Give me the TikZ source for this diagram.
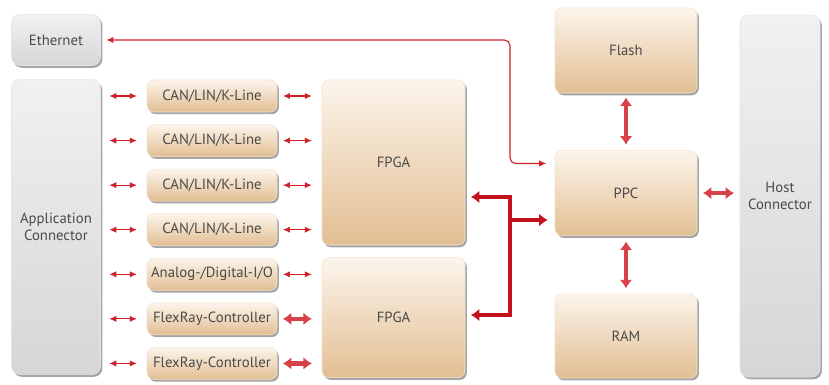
\documentclass[tikz,border=0pt]{standalone}
\usepackage{fontspec}
\setmainfont{PT Sans}
\usepackage{tikz}
\usetikzlibrary{arrows.meta,positioning,shadows}

\definecolor{boxtop}{HTML}{FCF5EC}
\definecolor{boxbot}{HTML}{E2BE92}
\definecolor{greytop}{HTML}{F1F1F3}
\definecolor{greybot}{HTML}{D6D6D9}
\definecolor{sigred}{HTML}{D0202A}
\definecolor{busred}{HTML}{C2121E}
\definecolor{txtgrey}{HTML}{4A4A4A}

\begin{document}
\begin{tikzpicture}[
  x=0.025cm, y=-0.025cm,
  every node/.style={font=\fontsize{10.5}{12.5}\selectfont, text=txtgrey},
  box/.style={draw=boxtop!70!boxbot, line width=0.4pt, rounded corners=5pt, align=center,
               top color=boxtop, bottom color=boxbot, inner sep=2pt,
               drop shadow={shadow xshift=1.3pt, shadow yshift=-1.6pt, opacity=.5, fill=black!70}},
  chip/.style={box, minimum width=3.25cm, minimum height=0.8cm},
  big/.style={box, minimum width=3.55cm, minimum height=2.125cm},
  gbox/.style={draw=greytop!60!greybot, line width=0.4pt, rounded corners=6pt, align=center,
               top color=greytop, bottom color=greybot, inner sep=2pt,
               drop shadow={shadow xshift=1.3pt, shadow yshift=-1.6pt, opacity=.5, fill=black!70}},
  sig/.style={{Latex[length=5pt,width=4.5pt]}-{Latex[length=5pt,width=4.5pt]}, sigred, line width=0.8pt},
  fat/.style={{Latex[length=6pt,width=9pt]}-{Latex[length=6pt,width=9pt]}, sigred!85, line width=3.2pt},
  bus/.style={busred, line width=3pt},
]
\useasboundingbox (0,0) rectangle (829,385);

\node[gbox, minimum width=2.225cm, minimum height=1.275cm] (eth) at (56,40) {Ethernet};
\node[gbox, minimum width=2.225cm, minimum height=7.375cm] (app) at (56,227) {Application\\Connector};

\node[chip] (can1) at (212,96) {CAN/LIN/K-Line};
\node[chip, below=3mm of can1] (can2) {CAN/LIN/K-Line};
\node[chip, below=3mm of can2] (can3) {CAN/LIN/K-Line};
\node[chip, below=3mm of can3] (can4) {CAN/LIN/K-Line};
\node[chip, below=3mm of can4] (aio)  {Analog-/Digital-I/O};
\node[chip, below=3mm of aio]  (flex1) {FlexRay-Controller};
\node[chip, below=3mm of flex1] (flex2) {FlexRay-Controller};

\node[box, minimum width=3.575cm, minimum height=4.125cm] (fpga1) at (393.5,162.5) {FPGA};
\node[box, minimum width=3.575cm, minimum height=3cm, below=3mm of fpga1] (fpga2) {FPGA};

\node[big] (flash) at (626,50.5) {Flash};
\node[big, below=1.425cm of flash] (ppc) {PPC};
\node[big, minimum height=2.1cm, below=1.45cm of ppc] (ram) {RAM};

\node[gbox, minimum width=2cm, minimum height=9.05cm] (host) at (780,196) {Host\\Connector};

\coordinate (bustop) at (510,197);
\coordinate (busmid) at (510,220);
\coordinate (busbot) at (510,315);

\draw[sig, shorten <=6pt, shorten >=7pt] (app.east |- can1) -- (can1.west);
\draw[sig, shorten <=6pt, shorten >=7pt] (app.east |- can2) -- (can2.west);
\draw[sig, shorten <=6pt, shorten >=7pt] (app.east |- can3) -- (can3.west);
\draw[sig, shorten <=6pt, shorten >=7pt] (app.east |- can4) -- (can4.west);
\draw[sig, shorten <=6pt, shorten >=7pt] (app.east |- aio) -- (aio.west);
\draw[sig, shorten <=6pt, shorten >=7pt] (app.east |- flex1) -- (flex1.west);
\draw[sig, shorten <=6pt, shorten >=7pt] (app.east |- flex2) -- (flex2.west);

\draw[sig, shorten <=4pt, shorten >=7pt] (can1.east) -- (can1 -| fpga1.west);
\draw[sig, shorten <=4pt, shorten >=7pt] (can2.east) -- (can2 -| fpga1.west);
\draw[sig, shorten <=4pt, shorten >=7pt] (can3.east) -- (can3 -| fpga1.west);
\draw[sig, shorten <=4pt, shorten >=7pt] (can4.east) -- (can4 -| fpga1.west);
\draw[sig, shorten <=4pt, shorten >=7pt] (aio.east) -- (aio -| fpga2.west);
\draw[fat, shorten <=4pt, shorten >=7pt] (flex1.east) -- (flex1 -| fpga2.west);
\draw[fat, shorten <=4pt, shorten >=7pt] (flex2.east) -- (flex2 -| fpga2.west);

\draw[sig, rounded corners=4pt, shorten <=4pt, shorten >=6pt]
  (eth.east) -- (eth.east -| bustop) |- ([yshift=7.4mm]ppc.west);

\draw[bus, {Latex[length=6pt,width=9pt]}-{Latex[length=6pt,width=9pt]}, shorten <=4pt]
  (fpga1.east |- bustop) -- (bustop) -- (busbot) -- ([xshift=4pt]fpga2.east |- busbot);
\draw[bus, -{Latex[length=6pt,width=9pt]}, shorten >=5pt] (busmid) -- (ppc.west |- busmid);

\draw[fat, shorten <=3pt, shorten >=4pt] (flash.south) -- (ppc.north);
\draw[fat, shorten <=4pt, shorten >=4pt] (ppc.south) -- (ram.north);
\draw[fat, shorten <=4pt, shorten >=4pt] (ppc.east) -- (host.west |- ppc.east);
\end{tikzpicture}
\end{document}
